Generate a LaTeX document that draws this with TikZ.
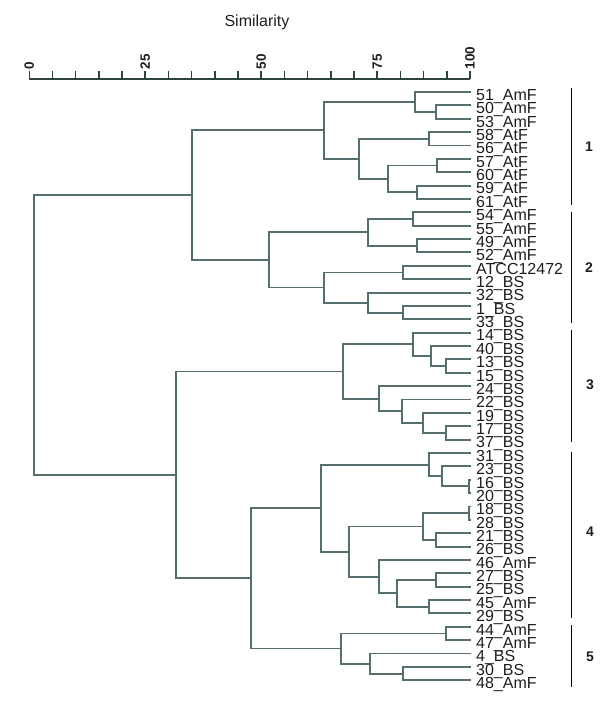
\documentclass[tikz,border=0pt]{standalone}
\usepackage{fontspec}
\setmainfont{Liberation Sans}
\usetikzlibrary{calc}
\definecolor{treec}{HTML}{566E6E}
\definecolor{axisc}{HTML}{2E4242}
\definecolor{txtc}{HTML}{1E1E1E}
\newcommand\leaffont{\fontsize{16}{16}\selectfont}
\newcommand\dnode[4]{%
  \path let \p1=(#3), \p2=(#4) in ({#2pt},{0.5*(\y1+\y2)}) coordinate (#1);%
  \draw[treeline] (#3) -| (#1) |- (#4);}
\begin{document}
\begin{tikzpicture}[x=1pt,y=-1pt,
  treeline/.style={draw=treec,line width=1.9pt},
  axisline/.style={draw=axisc,line width=1.6pt},
  grpbar/.style={draw=black,line width=1.2pt},
  leaf/.style={anchor=base west,font=\leaffont,text=txtc,inner sep=0pt},
  ticklab/.style={rotate=90,anchor=west,inner sep=0pt,text=txtc,font=\bfseries\fontsize{13.5}{13.5}\selectfont},
  grplab/.style={inner sep=0pt,text=txtc,font=\bfseries\fontsize{14}{14}\selectfont}]
\useasboundingbox (0,0) rectangle (600,709);
% title
\node (title) [text=txtc,font=\fontsize{16}{16}\selectfont,anchor=base] at (257,27) {Similarity};
% axis
\coordinate (ax0) at (29.3,79);
\coordinate (ax1) at (470,79);
\draw[axisline] (ax0) -- (ax1);
\foreach \k in {0,...,19} \draw[axisline] ({29.3+\k*23.195},79) -- ++(0,-8.5);
\node (lab0) [ticklab] at (29.3,69.5) {0};
\node (lab25) [ticklab] at ({29.3+5*23.195},69.5) {25};
\node (lab50) [ticklab] at ({29.3+10*23.195},69.5) {50};
\node (lab75) [ticklab] at ({29.3+15*23.195},69.5) {75};
\node (lab100) [ticklab] at ({29.3+19*23.195},69.5) {100};
% leaves
\foreach \t [count=\i] in {51\_AmF,50\_AmF,53\_AmF,58\_AtF,56\_AtF,57\_AtF,60\_AtF,59\_AtF,61\_AtF,
  54\_AmF,55\_AmF,49\_AmF,52\_AmF,ATCC12472,12\_BS,32\_BS,1\_BS,33\_BS,
  14\_BS,40\_BS,13\_BS,15\_BS,24\_BS,22\_BS,19\_BS,17\_BS,37\_BS,
  31\_BS,23\_BS,16\_BS,20\_BS,18\_BS,28\_BS,21\_BS,26\_BS,46\_AmF,27\_BS,25\_BS,45\_AmF,29\_BS,
  44\_AmF,47\_AmF,4\_BS,30\_BS,48\_AmF}{
  \node (l\i) [leaf] at (476,{92+(\i-1)*13.37+8.3}) {\t};
  \coordinate (p\i) at (471,{92+(\i-1)*13.37});
}
% group 1
\dnode{a1}{436}{p2}{p3}
\dnode{a2}{415}{p1}{a1}
\dnode{a3}{429.3}{p4}{p5}
\dnode{a4}{436.7}{p6}{p7}
\dnode{a5}{416.7}{p8}{p9}
\dnode{a6}{388.3}{a4}{a5}
\dnode{a7}{359.3}{a3}{a6}
\dnode{a8}{324}{a2}{a7}
% group 2
\dnode{b1}{412.7}{p10}{p11}
\dnode{b2}{416.7}{p12}{p13}
\dnode{b3}{368.3}{b1}{b2}
\dnode{b4}{403.3}{p14}{p15}
\dnode{b5}{403.3}{p17}{p18}
\dnode{b6}{368.3}{p16}{b5}
\dnode{b7}{324}{b4}{b6}
\dnode{b8}{269.3}{b3}{b7}
\dnode{t1}{191.7}{a8}{b8}
% group 3
\dnode{c1}{445.7}{p21}{p22}
\dnode{c2}{430.7}{p20}{c1}
\dnode{c3}{413.3}{p19}{c2}
\dnode{c4}{445.7}{p26}{p27}
\dnode{c5}{423.3}{p25}{c4}
\dnode{c6}{401.7}{p24}{c5}
\dnode{c7}{379}{p23}{c6}
\dnode{c8}{342.7}{c3}{c7}
% group 4
\dnode{d1}{469.3}{p30}{p31}
\dnode{d2}{441.7}{p29}{d1}
\dnode{d3}{429.3}{p28}{d2}
\dnode{d4}{469.3}{p32}{p33}
\dnode{d5}{436}{p34}{p35}
\dnode{d6}{423.3}{d4}{d5}
\dnode{d7}{436}{p37}{p38}
\dnode{d8}{429.3}{p39}{p40}
\dnode{d9}{397.3}{d7}{d8}
\dnode{d10}{379}{p36}{d9}
\dnode{d11}{349}{d6}{d10}
\dnode{d12}{321}{d3}{d11}
% group 5
\dnode{e1}{445.7}{p41}{p42}
\dnode{e2}{403.3}{p44}{p45}
\dnode{e3}{370}{p43}{e2}
\dnode{e4}{340.7}{e1}{e3}
\dnode{f1}{251}{d12}{e4}
\dnode{g1}{175.7}{c8}{f1}
\dnode{root}{34.3}{t1}{g1}
% group bars
\coordinate (g1t) at (571.5,88);    \coordinate (g1b) at (571.5,205);
\coordinate (g2t) at (571.5,211.5); \coordinate (g2b) at (571.5,322.5);
\coordinate (g3t) at (571.5,330);   \coordinate (g3b) at (571.5,441.5);
\coordinate (g4t) at (571.5,451.5); \coordinate (g4b) at (571.5,618);
\coordinate (g5t) at (571.5,625);   \coordinate (g5b) at (571.5,687);
\foreach \g in {1,...,5} \draw[grpbar] (g\g t) -- (g\g b);
\node (n1) [grplab] at (589,147) {1};
\node (n2) [grplab] at (589,268) {2};
\node (n3) [grplab] at (590,385) {3};
\node (n4) [grplab] at (590,532) {4};
\node (n5) [grplab] at (590,657) {5};
\end{tikzpicture}
\end{document}
